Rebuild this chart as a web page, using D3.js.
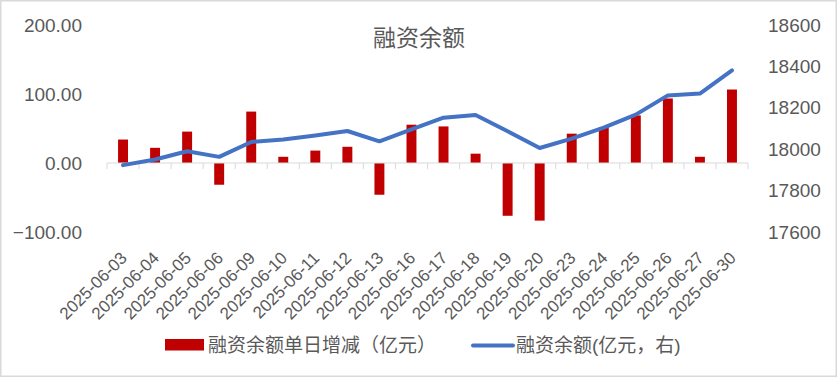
<!DOCTYPE html>
<html>
<head>
<meta charset="utf-8">
<script src="https://cdn.jsdelivr.net/npm/d3@7"></script>
<style>
  body { margin: 0; background: #fff; }
  svg { display: block; }
  text { font-family: "Liberation Sans", "Noto Sans CJK SC", sans-serif; fill: #595959; }
</style>
</head>
<body>
<div id="chart"></div>
<script>
// dates on the category axis
var dates = ["2025-06-03", "2025-06-04", "2025-06-05", "2025-06-06", "2025-06-09",
  "2025-06-10", "2025-06-11", "2025-06-12", "2025-06-13", "2025-06-16",
  "2025-06-17", "2025-06-18", "2025-06-19", "2025-06-20", "2025-06-23",
  "2025-06-24", "2025-06-25", "2025-06-26", "2025-06-27", "2025-06-30"];

// daily change (left axis, 亿元)
var dailyChange = [34, 22, 45.5, -31.5, 74.5, 9, 18, 23.5, -46, 55.5,
  53, 13.5, -76.5, -83.5, 42.5, 52, 69, 93.5, 9, 106.5];

// financing balance (right axis, 亿元)
var balance = [17923, 17950, 17990, 17963, 18035, 18047, 18066, 18088, 18038, 18096,
  18152, 18165, 18087, 18006, 18051, 18104, 18167, 18260, 18269, 18381];

var leftTicks = [-100, 0, 100, 200];
var rightTicks = [17600, 17800, 18000, 18200, 18400, 18600];

var svgWidth = 837;
var svgHeight = 377;

var margin = { top: 25, bottom: 145, left: 107, right: 89 };
var width = svgWidth - margin.left - margin.right;
var height = svgHeight - margin.top - margin.bottom;

var svg = d3.select("#chart")
  .append("svg")
  .attr("width", svgWidth)
  .attr("height", svgHeight);

// outer border
svg.append("rect")
  .attr("x", 0.75)
  .attr("y", 0.75)
  .attr("width", svgWidth - 1.5)
  .attr("height", svgHeight - 1.5)
  .attr("fill", "#fff")
  .attr("stroke", "#d9d9d9")
  .attr("stroke-width", 1.5);

var chartGroup = svg.append("g")
  .attr("transform", `translate(${margin.left}, ${margin.top})`);

// scales
var xScale = d3.scaleBand()
  .domain(dates)
  .range([0, width])
  .padding(0);

var yLeft = d3.scaleLinear()
  .domain([-100, 200])
  .range([height, 0]);

var yRight = d3.scaleLinear()
  .domain([17600, 18600])
  .range([height, 0]);

// left axis labels
chartGroup.append("g")
  .call(d3.axisLeft(yLeft).tickValues(leftTicks).tickFormat(d3.format(".2f")).tickSize(0).tickPadding(25))
  .call(g => g.select(".domain").remove())
  .selectAll("text")
  .attr("font-size", "19px")
  .attr("fill", "#595959");

// right axis labels
chartGroup.append("g")
  .attr("transform", `translate(${width}, 0)`)
  .call(d3.axisRight(yRight).tickValues(rightTicks).tickFormat(d3.format("d")).tickSize(0).tickPadding(20))
  .call(g => g.select(".domain").remove())
  .selectAll("text")
  .attr("font-size", "19px")
  .attr("fill", "#595959");

// bars
var barW = xScale.bandwidth() * 0.31;
chartGroup.selectAll(".bar")
  .data(dailyChange)
  .enter()
  .append("rect")
  .classed("bar", true)
  .attr("x", (d, i) => xScale(dates[i]) + xScale.bandwidth() / 2 - barW / 2)
  .attr("y", d => yLeft(Math.max(0, d)))
  .attr("width", barW)
  .attr("height", d => Math.abs(yLeft(d) - yLeft(0)))
  .attr("fill", "#c00000");

// zero line with category ticks
var zeroY = yLeft(0);
chartGroup.append("line")
  .attr("x1", 0)
  .attr("x2", width)
  .attr("y1", zeroY)
  .attr("y2", zeroY)
  .attr("stroke", "#d9d9d9")
  .attr("stroke-width", 1);

var edges = dates.map(d => xScale(d)).concat([width]);
chartGroup.selectAll(".xtick")
  .data(edges)
  .enter()
  .append("line")
  .classed("xtick", true)
  .attr("x1", d => d)
  .attr("x2", d => d)
  .attr("y1", zeroY)
  .attr("y2", zeroY + 6)
  .attr("stroke", "#d9d9d9")
  .attr("stroke-width", 1);

// balance line
var line = d3.line()
  .x((d, i) => xScale(dates[i]) + xScale.bandwidth() / 2)
  .y(d => yRight(d));

chartGroup.append("path")
  .datum(balance)
  .attr("d", line)
  .attr("fill", "none")
  .attr("stroke", "#4472c4")
  .attr("stroke-width", 4)
  .attr("stroke-linejoin", "round")
  .attr("stroke-linecap", "round");

// rotated date labels at the bottom of the plot
chartGroup.selectAll(".xlabel")
  .data(dates)
  .enter()
  .append("text")
  .classed("xlabel", true)
  .attr("transform", d => `translate(${xScale(d) + xScale.bandwidth() / 2 + 5}, ${height + 27}) rotate(-45)`)
  .attr("text-anchor", "end")
  .attr("font-size", "17px")
  .text(d => d);

// title
svg.append("text")
  .attr("x", 419)
  .attr("y", 46)
  .attr("text-anchor", "middle")
  .attr("font-size", "23px")
  .text("融资余额");

// legend
var legend = svg.append("g");
legend.append("rect")
  .attr("x", 165)
  .attr("y", 339)
  .attr("width", 39)
  .attr("height", 11.5)
  .attr("fill", "#c00000");
legend.append("text")
  .attr("x", 208)
  .attr("y", 352)
  .attr("font-size", "19px")
  .text("融资余额单日增减（亿元）");

legend.append("line")
  .attr("x1", 473)
  .attr("x2", 513)
  .attr("y1", 345.5)
  .attr("y2", 345.5)
  .attr("stroke", "#4472c4")
  .attr("stroke-width", 4)
  .attr("stroke-linecap", "round");
legend.append("text")
  .attr("x", 516)
  .attr("y", 352)
  .attr("font-size", "19px")
  .text("融资余额(亿元，右)");
</script>
</body>
</html>
